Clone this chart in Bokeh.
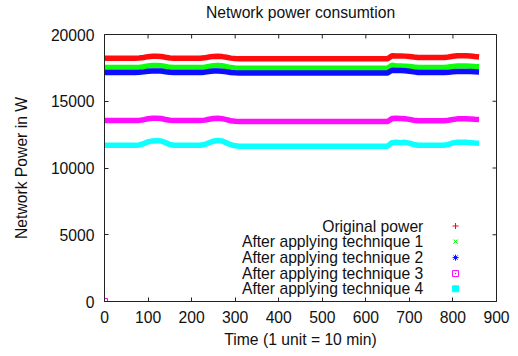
from bokeh.plotting import figure
from bokeh.models import Range1d, LinearAxis, FixedTicker, Label, ColumnDataSource
from bokeh.embed import file_html
from bokeh.resources import INLINE

# ---------------- data ----------------
time_units = list(range(0, 870, 10))

original_power = [
    18220, 18220, 18220, 18220, 18220, 18220, 18220, 18220,
    18235, 18280, 18340, 18370, 18370, 18355, 18295, 18240,
    18220, 18220, 18220, 18220, 18220, 18220, 18220,
    18250, 18310, 18360, 18370, 18345, 18290, 18230, 18200,
    18180, 18180, 18180, 18180, 18180, 18180, 18180, 18180, 18180, 18180,
    18180, 18180, 18180, 18180, 18180, 18180, 18180, 18180, 18180, 18180,
    18180, 18180, 18180, 18180, 18180, 18180, 18180, 18180, 18180, 18180,
    18180, 18180, 18180, 18180, 18180,
    18410, 18390, 18395, 18380, 18350, 18310,
    18280, 18280, 18280, 18280, 18280, 18280, 18280,
    18320, 18370, 18400, 18410, 18410, 18390, 18350, 18320,
]
technique1_power = [
    17520, 17520, 17520, 17520, 17520, 17520, 17520, 17520,
    17535, 17580, 17645, 17680, 17680, 17665, 17600, 17540,
    17520, 17520, 17520, 17520, 17520, 17520, 17520,
    17550, 17610, 17665, 17680, 17655, 17590, 17520, 17490,
    17470, 17470, 17470, 17470, 17470, 17470, 17470, 17470, 17470, 17470,
    17470, 17470, 17470, 17470, 17470, 17470, 17470, 17470, 17470, 17470,
    17470, 17470, 17470, 17470, 17470, 17470, 17470, 17470, 17470, 17470,
    17470, 17470, 17470, 17470, 17470,
    17690, 17640, 17645, 17630, 17600, 17560,
    17530, 17530, 17530, 17530, 17530, 17530, 17530,
    17560, 17610, 17635, 17640, 17640, 17625, 17600, 17580,
]
technique2_power = [
    17160, 17160, 17160, 17160, 17160, 17160, 17160, 17160,
    17170, 17200, 17245, 17270, 17270, 17260, 17215, 17175,
    17160, 17160, 17160, 17160, 17160, 17160, 17160,
    17180, 17225, 17262, 17270, 17252, 17205, 17160, 17135,
    17120, 17120, 17120, 17120, 17120, 17120, 17120, 17120, 17120, 17120,
    17120, 17120, 17120, 17120, 17120, 17120, 17120, 17120, 17120, 17120,
    17120, 17120, 17120, 17120, 17120, 17120, 17120, 17120, 17120, 17120,
    17120, 17120, 17120, 17120, 17120,
    17320, 17300, 17305, 17290, 17250, 17200,
    17160, 17160, 17160, 17160, 17160, 17160, 17160,
    17180, 17210, 17225, 17230, 17230, 17220, 17205, 17190,
]
technique3_power = [
    13550, 13550, 13550, 13550, 13550, 13550, 13550, 13550,
    13565, 13620, 13685, 13720, 13720, 13705, 13635, 13575,
    13550, 13550, 13550, 13550, 13550, 13550, 13550,
    13585, 13650, 13705, 13720, 13695, 13625, 13540, 13500,
    13480, 13480, 13480, 13480, 13480, 13480, 13480, 13480, 13480, 13480,
    13480, 13480, 13480, 13480, 13480, 13480, 13480, 13480, 13480, 13480,
    13480, 13480, 13480, 13480, 13480, 13480, 13480, 13480, 13480, 13480,
    13480, 13480, 13480, 13480, 13480,
    13700, 13720, 13715, 13690, 13640, 13580,
    13540, 13540, 13540, 13540, 13540, 13540, 13540,
    13580, 13640, 13680, 13690, 13690, 13675, 13650, 13640,
]
technique3_outlier_time = [0]
technique3_outlier_power = [0]
technique4_power = [
    11700, 11700, 11700, 11700, 11700, 11700, 11700, 11700,
    11730, 11830, 11960, 12030, 12050, 12020, 11900, 11760,
    11700, 11700, 11700, 11700, 11700, 11700, 11700,
    11760, 11890, 12010, 12060, 12020, 11880, 11740, 11660,
    11630, 11630, 11630, 11630, 11630, 11630, 11630, 11630, 11630, 11630,
    11630, 11630, 11630, 11630, 11630, 11630, 11630, 11630, 11630, 11630,
    11630, 11630, 11630, 11630, 11630, 11630, 11630, 11630, 11630, 11630,
    11630, 11630, 11630, 11630, 11630,
    11900, 11930, 11900, 11920, 11860, 11760,
    11710, 11710, 11710, 11710, 11710, 11710, 11710,
    11770, 11880, 11930, 11920, 11920, 11900, 11870, 11850,
]

title_text = "Network power consumtion"
series_labels = [
    "Original power",
    "After applying technique 1",
    "After applying technique 2",
    "After applying technique 3",
    "After applying technique 4",
]
x_ticks = [0, 100, 200, 300, 400, 500, 600, 700, 800, 900]
y_ticks = [0, 5000, 10000, 15000, 20000]

# ---------------- layout / styling ----------------
FONT = "Liberation Sans"
FS = "15.7px"
INK = "#111111"
FRAME = "#222222"
colors = ["#ff0000", "#00ff00", "#0000ff", "#ff00ff", "#00ffff"]
markers = ["cross", "x", "asterisk", "square_dot", "square"]

X_MIN, X_MAX, Y_MIN, Y_MAX = 0, 900, 0, 20000
SHIFT = 12                      # canvas starts this many px above the page top
W, H = 518, 356 + SHIFT
BL, BR, BT, BB = 104, 22, 34 + SHIFT, 55
FRAME_W, FRAME_H = W - BL - BR, H - BT - BB
TICK_PX = 4

p = figure(width=W, height=H, output_backend="svg", toolbar_location=None,
           x_range=Range1d(X_MIN, X_MAX), y_range=Range1d(Y_MIN, Y_MAX),
           min_border_left=BL, min_border_right=BR, min_border_top=BT,
           min_border_bottom=BB, x_axis_location=None, y_axis_location=None)
p.styles = {"margin-top": f"-{SHIFT}px"}
p.background_fill_color = "white"
p.border_fill_color = "white"
p.grid.visible = False
p.outline_line_color = FRAME
p.outline_line_width = 1

p.title.text = title_text
p.title.text_font = FONT
p.title.text_font_size = FS
p.title.text_font_style = "normal"
p.title.align = "center"
p.title.vertical_align = "top"
p.title.text_color = INK
p.title.standoff = 24


def make_axis(loc, ticks):
    ax = LinearAxis()
    ax.ticker = FixedTicker(ticks=ticks)
    ax.major_tick_in = TICK_PX
    ax.major_tick_out = 0
    ax.minor_tick_in = 0
    ax.minor_tick_out = 0
    ax.major_tick_line_color = FRAME
    ax.axis_line_color = FRAME
    ax.major_label_text_font = FONT
    ax.major_label_text_font_size = FS
    ax.major_label_text_color = INK
    ax.axis_label_text_font = FONT
    ax.axis_label_text_font_size = FS
    ax.axis_label_text_font_style = "normal"
    ax.axis_label_text_color = INK
    p.add_layout(ax, loc)
    return ax


xb = make_axis("below", x_ticks)
xb.axis_label = "Time (1 unit = 10 min)"
xb.major_label_standoff = 9
xb.axis_label_standoff = 5
yl = make_axis("left", y_ticks)
yl.axis_label = "Network Power in W"
yl.major_label_standoff = 10
yl.axis_label_standoff = 18

# mirrored inward ticks on the top and right edges of the frame
dx = TICK_PX * (X_MAX - X_MIN) / FRAME_W
dy = TICK_PX * (Y_MAX - Y_MIN) / FRAME_H
p.segment(x0=x_ticks, x1=x_ticks, y0=[Y_MAX] * len(x_ticks),
          y1=[Y_MAX - dy] * len(x_ticks), line_color=FRAME, line_width=1)
p.segment(x0=[X_MAX] * len(y_ticks), x1=[X_MAX - dx] * len(y_ticks),
          y0=y_ticks, y1=y_ticks, line_color=FRAME, line_width=1)

series = [original_power, technique1_power, technique2_power,
          technique3_power, technique4_power]
for vals, c in zip(series, colors):
    src = ColumnDataSource(dict(t=time_units, w=vals))
    p.line("t", "w", source=src, line_color=c, line_width=5.5, line_alpha=0.95)

p.scatter(technique3_outlier_time, technique3_outlier_power, marker="square_dot",
          size=6, line_color=colors[3], fill_alpha=0, line_width=1)

# gnuplot-style key (text right-aligned, sample to its right)
key_text_x = 732
key_mark_x = 806
key_rows = [5655, 4482, 3287, 2092, 949]
for lab, c, m, ky in zip(series_labels, colors, markers, key_rows):
    p.add_layout(Label(x=key_text_x, y=ky, text=lab, text_align="right",
                       text_baseline="middle", text_font=FONT,
                       text_font_size=FS, text_color=INK))
    fill = c if m == "square" else None
    p.scatter([key_mark_x], [ky], marker=m, size=6,
              line_color=c, fill_color=fill, line_width=1)

open("out.html", "w").write(file_html(p, INLINE))
